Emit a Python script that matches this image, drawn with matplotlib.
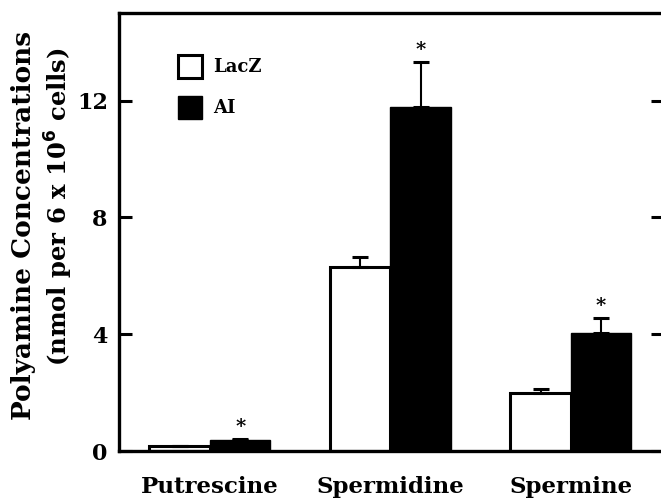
import numpy as np
import matplotlib
matplotlib.use("Agg")
import matplotlib.pyplot as plt

plt.rcParams['font.family'] = 'DejaVu Serif'
plt.rcParams['font.weight'] = 'bold'

polyamines = ["Putrescine", "Spermidine", "Spermine"]
lacz = [0.17, 6.30, 1.99]
lacz_err = [0.02, 0.33, 0.13]
ai = [0.37, 11.79, 4.04]
ai_err = [0.04, 1.52, 0.51]
significant = [True, True, True]
yticks = [0, 4, 8, 12]

fig = plt.figure(figsize=(6.61, 5.04), dpi=100)
ax = fig.add_axes([0.18, 0.105, 0.823, 0.869])

x = np.arange(len(polyamines))
w = 0.335
ekw = dict(elinewidth=1.5, capthick=2.2)
ax.bar(x - w / 2, lacz, w, color='white', edgecolor='black', linewidth=2.2,
       yerr=[np.zeros(3), lacz_err], capsize=6, error_kw=ekw, label='LacZ')
ax.bar(x + w / 2, ai, w, color='black', edgecolor='black', linewidth=1,
       yerr=[np.zeros(3), ai_err], capsize=6, error_kw=ekw, label='AI')

# asterisks over the AI bars
for i in range(len(polyamines)):
    if significant[i]:
        ax.text(x[i] + w / 2, ai[i] + ai_err[i] + 0.12, '*', ha='center',
                va='bottom', fontsize=14, fontweight='bold')

ax.set_xlim(-0.504, 2.51)
ax.set_ylim(0, 15)
ax.set_yticks(yticks)
ax.set_xticks(x)
ax.set_xticklabels(polyamines, fontsize=16.5, fontweight='bold')
ax.tick_params(axis='x', length=0, pad=18)
ax.tick_params(axis='y', direction='in', length=9, width=2.2, right=True,
               labelsize=16, pad=8)
for s in ax.spines.values():
    s.set_linewidth(2.4)

fig.text(0.035, 0.552, 'Polyamine Concentrations', rotation=90, ha='center',
         va='center', fontsize=19, fontweight='bold')
fig.text(0.089, 0.591, r'(nmol per 6 x 10$^{\mathbf{6}}$ cells)', rotation=90,
         ha='center', va='center', fontsize=17.5, fontweight='bold')

ax.legend(loc='upper left', bbox_to_anchor=(0.108, 0.905), frameon=False,
          borderpad=0, borderaxespad=0, handlelength=1.35, handleheight=1.6,
          labelspacing=1.0, handletextpad=0.6,
          prop={'weight': 'bold', 'size': 13})

fig.savefig('out.png', dpi=100)
